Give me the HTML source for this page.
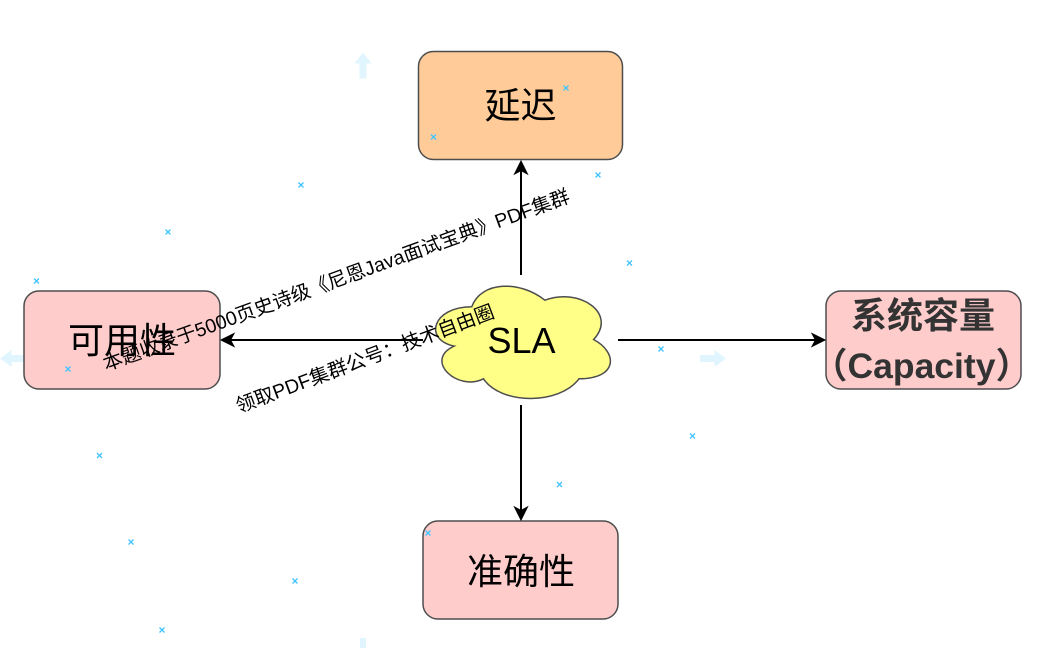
<!DOCTYPE html>
<html><head><meta charset="utf-8"><style>
html,body{margin:0;padding:0;background:#fff;width:1061px;height:648px;overflow:hidden}
svg{display:block}
text{font-family:"Liberation Sans","Noto Sans CJK SC",sans-serif}
</style></head><body>
<svg width="1061" height="648" viewBox="0 0 1061 648" xmlns="http://www.w3.org/2000/svg">
<rect width="1061" height="648" fill="#fff"/>
<g fill="#e1f5fe">
<path d="M363 52.500l8.500 11h-5v15h-7v-15h-5z"/>
<path d="M726 358.500l-11.500 8.500v-5h-14.500v-7h14.500v-5z"/>
<path d="M0 358.500l11.500 -8.500v5h14.500v7h-14.500v5z"/>
<rect x="360" y="638" width="6" height="10"/>
</g>
<g fill="#ffcccc" stroke="#4d4d4d" stroke-width="1.500">
<rect x="418.500" y="51.500" width="204" height="108" rx="15" fill="#ffcc99"/>
<rect x="24" y="291" width="196" height="98" rx="15"/>
<rect x="423" y="521" width="195" height="98" rx="15"/>
<rect x="826" y="291" width="195" height="98" rx="15"/>
</g>
<path transform="translate(423 274) scale(195 131)" vector-effect="non-scaling-stroke" fill="#ffff88" stroke="#4d4d4d" stroke-width="1.500" d="M.25 .25C.05 .25 0 .5 .16 .55C0 .66 .18 .9 .31 .8C.4 1 .7 1 .8 .8C1 .8 1 .6 .875 .5C1 .3 .8 .1 .625 .2C.5 .05 .3 .05 .25 .25Z"/>
<g stroke="#000" stroke-width="2" fill="none">
<path d="M521 275V170"/><path d="M521 405V511"/><path d="M423 340H230"/><path d="M618 340H815"/>
</g>
<g fill="#000" stroke="#000" stroke-width="1">
<path d="M521 161l6.500 13-6.500-3.500-6.500 3.500z"/>
<path d="M521 520l6.500-13-6.500 3.500-6.500-3.500z"/>
<path d="M221 340l13-6.500-3.500 6.500 3.500 6.500z"/>
<path d="M825 340l-13-6.500 3.500 6.500-3.500 6.500z"/>
</g>
<g text-anchor="middle" font-size="36" fill="#000">
<text x="520.500" y="118">延迟</text>
<text x="122" y="353">可用性</text>
<text x="521" y="584">准确性</text>
<text x="521.500" y="353">SLA</text>
<text x="923" y="328" font-weight="bold" fill="#333">系统容量</text>
<text x="921.500" y="378" font-size="35.500" font-weight="bold" fill="#333">（Capacity）</text>
</g>
<g stroke="#40c4ff" stroke-width="1.300" fill="none">
<path d="M563.500 85.500l5 5m0-5l-5 5"/>
<path d="M431 134.500l5 5m0-5l-5 5"/>
<path d="M595.500 172.500l5 5m0-5l-5 5"/>
<path d="M298.500 182.500l5 5m0-5l-5 5"/>
<path d="M165.500 229.500l5 5m0-5l-5 5"/>
<path d="M34 278.500l5 5m0-5l-5 5"/>
<path d="M627 260.500l5 5m0-5l-5 5"/>
<path d="M65.500 366.500l5 5m0-5l-5 5"/>
<path d="M658.500 346.500l5 5m0-5l-5 5"/>
<path d="M690 433.500l5 5m0-5l-5 5"/>
<path d="M97 453l5 5m0-5l-5 5"/>
<path d="M557 482l5 5m0-5l-5 5"/>
<path d="M425.500 530.500l5 5m0-5l-5 5"/>
<path d="M128.500 539.500l5 5m0-5l-5 5"/>
<path d="M292.500 578.500l5 5m0-5l-5 5"/>
<path d="M159.500 627.500l5 5m0-5l-5 5"/>
</g>
<g font-size="19.500" fill="#000">
<text transform="translate(106 371) rotate(-20)" textLength="495" lengthAdjust="spacing">本题收录于5000页史诗级《尼恩Java面试宝典》PDF集群</text>
<text transform="translate(239 413) rotate(-20.500)" textLength="274" lengthAdjust="spacing">领取PDF集群公号：技术自由圈</text>
</g>
</svg>
</body></html>
